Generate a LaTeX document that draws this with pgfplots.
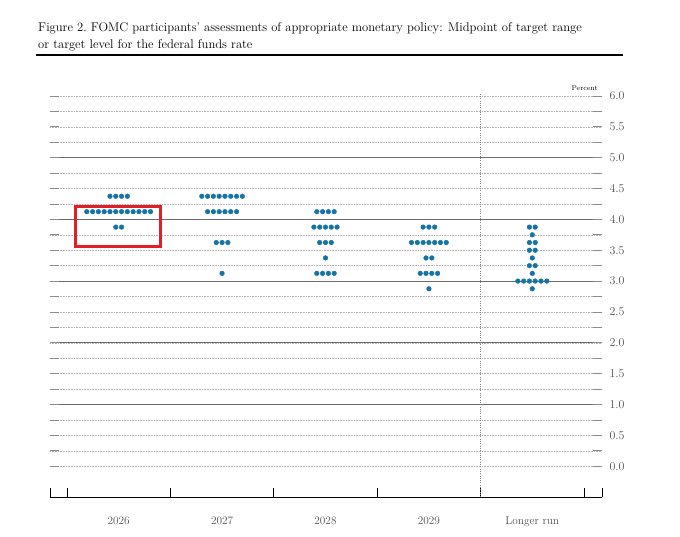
\documentclass[border=0pt]{standalone}
\usepackage{pgfplots}
\pgfplotsset{compat=1.18}
\usepackage{pgfplotstable}
\definecolor{fedblue}{RGB}{22,116,164}
\definecolor{labgray}{RGB}{80,80,80}
\definecolor{boxred}{RGB}{226,30,38}
\pgfplotstableread{
c k y
0 -1.5 4.375
0 -0.5 4.375
0 0.5 4.375
0 1.5 4.375
0 -5.5 4.125
0 -4.5 4.125
0 -3.5 4.125
0 -2.5 4.125
0 -1.5 4.125
0 -0.5 4.125
0 0.5 4.125
0 1.5 4.125
0 2.5 4.125
0 3.5 4.125
0 4.5 4.125
0 5.5 4.125
0 -0.5 3.875
0 0.5 3.875
}\dataA
\pgfplotstableread{
c k y
1 -3.5 4.375
1 -2.5 4.375
1 -1.5 4.375
1 -0.5 4.375
1 0.5 4.375
1 1.5 4.375
1 2.5 4.375
1 3.5 4.375
1 -2.5 4.125
1 -1.5 4.125
1 -0.5 4.125
1 0.5 4.125
1 1.5 4.125
1 2.5 4.125
1 -1 3.625
1 0 3.625
1 1 3.625
1 0 3.125
}\dataB
\pgfplotstableread{
c k y
2 -1.5 4.125
2 -0.5 4.125
2 0.5 4.125
2 1.5 4.125
2 -2 3.875
2 -1 3.875
2 0 3.875
2 1 3.875
2 2 3.875
2 -1 3.625
2 0 3.625
2 1 3.625
2 0 3.375
2 -1.5 3.125
2 -0.5 3.125
2 0.5 3.125
2 1.5 3.125
}\dataC
\pgfplotstableread{
c k y
3 -1 3.875
3 0 3.875
3 1 3.875
3 -3 3.625
3 -2 3.625
3 -1 3.625
3 0 3.625
3 1 3.625
3 2 3.625
3 3 3.625
3 -0.5 3.375
3 0.5 3.375
3 -1.5 3.125
3 -0.5 3.125
3 0.5 3.125
3 1.5 3.125
3 0 2.875
}\dataD
\pgfplotstableread{
c k y
4 -0.5 3.875
4 0.5 3.875
4 0 3.75
4 -0.5 3.625
4 0.5 3.625
4 -0.5 3.5
4 0.5 3.5
4 0 3.375
4 -0.5 3.25
4 0.5 3.25
4 0 3.125
4 -2.5 3.0
4 -1.5 3.0
4 -0.5 3.0
4 0.5 3.0
4 1.5 3.0
4 2.5 3.0
4 0 2.875
}\dataE
\begin{document}
\begin{tikzpicture}[x=1pt,y=1pt]
\useasboundingbox (0,0) rectangle (680,536);
\node[anchor=base west, inner sep=0pt, font=\fontsize{12.6}{14}\selectfont] at (38,504) {Figure 2.\ FOMC participants' assessments of appropriate monetary policy: Midpoint of target range};
\node[anchor=base west, inner sep=0pt, font=\fontsize{12.6}{14}\selectfont] at (38,487.5) {or target level for the federal funds rate};
\draw[line width=1.5pt] (36,481) -- (623,481);
\node[anchor=base east, inner sep=0pt, font=\fontsize{7}{8}\selectfont] at (598,445) {Percent};
\begin{axis}[
  at={(50pt,39pt)}, anchor=south west,
  width=552pt, height=401pt, scale only axis,
  xmin=-0.664, xmax=4.674, ymin=-0.5, ymax=6,
  clip=false,
  axis line style={draw=none},
  tick align=inside,
  ytick={0,0.5,...,6},
  minor ytick={0.25,0.75,...,5.75},
  ytick pos=both, yticklabel pos=right,
  major tick length=9pt, minor tick length=9pt,
  y tick style={gray!90, line width=0.7pt},
  ymajorgrids, yminorgrids,
  major grid style={gray!60, line width=0.45pt, dash pattern=on 0.5pt off 1.1pt},
  minor grid style={gray!60, line width=0.45pt, dash pattern=on 0.5pt off 1.1pt},
  extra y ticks={1,2,3,4,5},
  extra y tick labels={},
  extra y tick style={grid=major, major grid style={solid, gray!85!black, line width=0.9pt}, y tick style={gray!90}},
  yticklabel style={font=\fontsize{11.5}{13}\selectfont, text=labgray, xshift=4pt},
  /pgf/number format/.cd, fixed, fixed zerofill, precision=1, /pgfplots/.cd,
  xtick={-0.664,-0.5,0.5,1.5,2.5,3.5,4.5,4.674},
  xticklabels={},
  xtick pos=lower,
  x tick style={black, line width=0.8pt},
  extra x ticks={0,1,2,3,4},
  extra x tick labels={2026,2027,2028,2029,Longer run},
  extra x tick style={major tick length=0pt, xticklabel style={font=\fontsize{11.3}{13}\selectfont, text=labgray, yshift=-16pt}},
]
\draw[black, line width=0.9pt] (rel axis cs:0,0) -- (rel axis cs:1,0);
\draw[gray, line width=0.6pt, dash pattern=on 0.8pt off 1.5pt] (axis cs:3.5,-0.5) -- (axis cs:3.5,6.05);
\addplot[only marks, mark=*, mark size=2.35pt, color=fedblue] table[x expr=\thisrow{c}+0.056*\thisrow{k}, y=y] {\dataA};
\addplot[only marks, mark=*, mark size=2.35pt, color=fedblue] table[x expr=\thisrow{c}+0.056*\thisrow{k}, y=y] {\dataB};
\addplot[only marks, mark=*, mark size=2.35pt, color=fedblue] table[x expr=\thisrow{c}+0.056*\thisrow{k}, y=y] {\dataC};
\addplot[only marks, mark=*, mark size=2.35pt, color=fedblue] table[x expr=\thisrow{c}+0.056*\thisrow{k}, y=y] {\dataD};
\addplot[only marks, mark=*, mark size=2.35pt, color=fedblue] table[x expr=\thisrow{c}+0.056*\thisrow{k}, y=y] {\dataE};
\draw[boxred, line width=3pt] (axis cs:-0.42,4.21) rectangle (axis cs:0.40,3.56);
\end{axis}
\end{tikzpicture}
\end{document}
